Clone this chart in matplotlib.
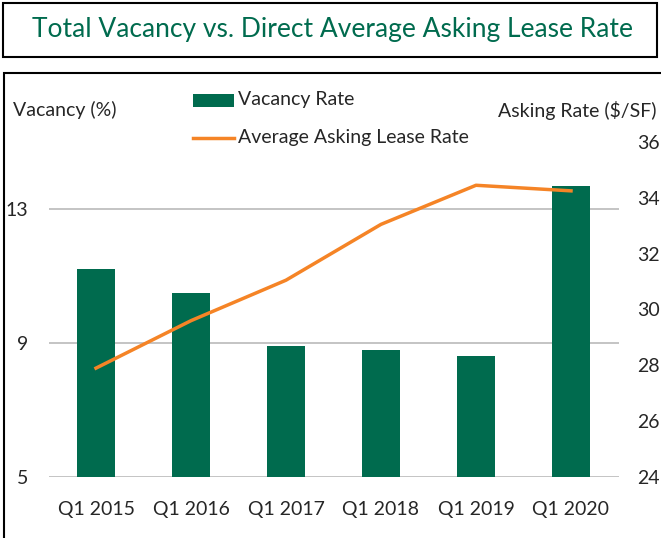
import matplotlib
matplotlib.use("Agg")
import matplotlib.pyplot as plt
from matplotlib.patches import Rectangle
from matplotlib.lines import Line2D

categories = ["Q1 2015", "Q1 2016", "Q1 2017", "Q1 2018", "Q1 2019", "Q1 2020"]
vacancy_rate = [11.2, 10.5, 8.9, 8.8, 8.6, 13.7]
asking_rate = [27.9, 29.6, 31.05, 33.05, 34.45, 34.25]
left_ticks = [5, 9, 13]
right_ticks = [24, 26, 28, 30, 32, 34, 36]

GREEN = "#006B4E"
ORANGE = "#F58426"
TXT = "#262626"
FONT = "Lato"
FS = 14

plt.rcParams["font.family"] = [FONT, "DejaVu Sans"]

W, H = 661, 538
fig = plt.figure(figsize=(W / 100, H / 100), dpi=100)

def fx(px):
    return px / W

def fy(py):
    return 1 - py / H

# title box
fig.patches.append(Rectangle((fx(3), fy(57)), fx(654), 54 / H, transform=fig.transFigure,
                             fill=False, edgecolor="black", linewidth=1.5))
fig.text(fx(332), fy(30), "Total Vacancy vs. Direct Average Asking Lease Rate",
         ha="center", va="center", fontsize=19, color=GREEN)

# chart box
fig.patches.append(Rectangle((fx(4), fy(545)), fx(670), 472 / H, transform=fig.transFigure,
                             fill=False, edgecolor="black", linewidth=1.5))

ax = fig.add_axes([fx(48.5), fy(477), fx(570), (477 - 142) / H])
x = list(range(len(categories)))
ax.bar(x, vacancy_rate, width=0.4, color=GREEN, zorder=3)
ax.set_ylim(5, 15)
ax.set_xlim(-0.5, len(categories) - 0.5)
ax.set_yticks(left_ticks)
ax.set_yticklabels([str(t) for t in left_ticks])
ax.set_xticks(x)
ax.set_xticklabels(categories)
ax.grid(axis="y", color="#BFBFBF", linewidth=1.3, zorder=0)
for s in ax.spines.values():
    s.set_visible(False)
ax.tick_params(axis="both", length=0, labelsize=FS, colors=TXT)
ax.tick_params(axis="y", pad=14.8)
ax.tick_params(axis="x", pad=17)

ax2 = ax.twinx()
ax2.plot(x, asking_rate, color=ORANGE, linewidth=2.5, zorder=4)
ax2.set_ylim(24, 36)
ax2.set_yticks(right_ticks)
ax2.set_yticklabels([str(t) for t in right_ticks])
for s in ax2.spines.values():
    s.set_visible(False)
ax2.tick_params(axis="y", length=0, labelsize=FS, colors=TXT, pad=13.3)

# axis titles
fig.text(fx(13), fy(110), "Vacancy (%)", ha="left", va="center", fontsize=FS, color=TXT)
fig.text(fx(656), fy(110), "Asking Rate (\\$/SF)", ha="right", va="center", fontsize=FS, color=TXT)

# legend
fig.patches.append(Rectangle((fx(193), fy(107)), fx(41), 13 / H, transform=fig.transFigure,
                             facecolor=GREEN, edgecolor="none"))
fig.text(fx(238), fy(100), "Vacancy Rate", ha="left", va="center", fontsize=FS, color=TXT)
fig.lines.append(Line2D([fx(193), fx(234)], [fy(138), fy(138)], transform=fig.transFigure,
                        color=ORANGE, linewidth=2.5))
fig.text(fx(238), fy(138), "Average Asking Lease Rate", ha="left", va="center", fontsize=FS, color=TXT)

fig.savefig("out.png", dpi=100)
